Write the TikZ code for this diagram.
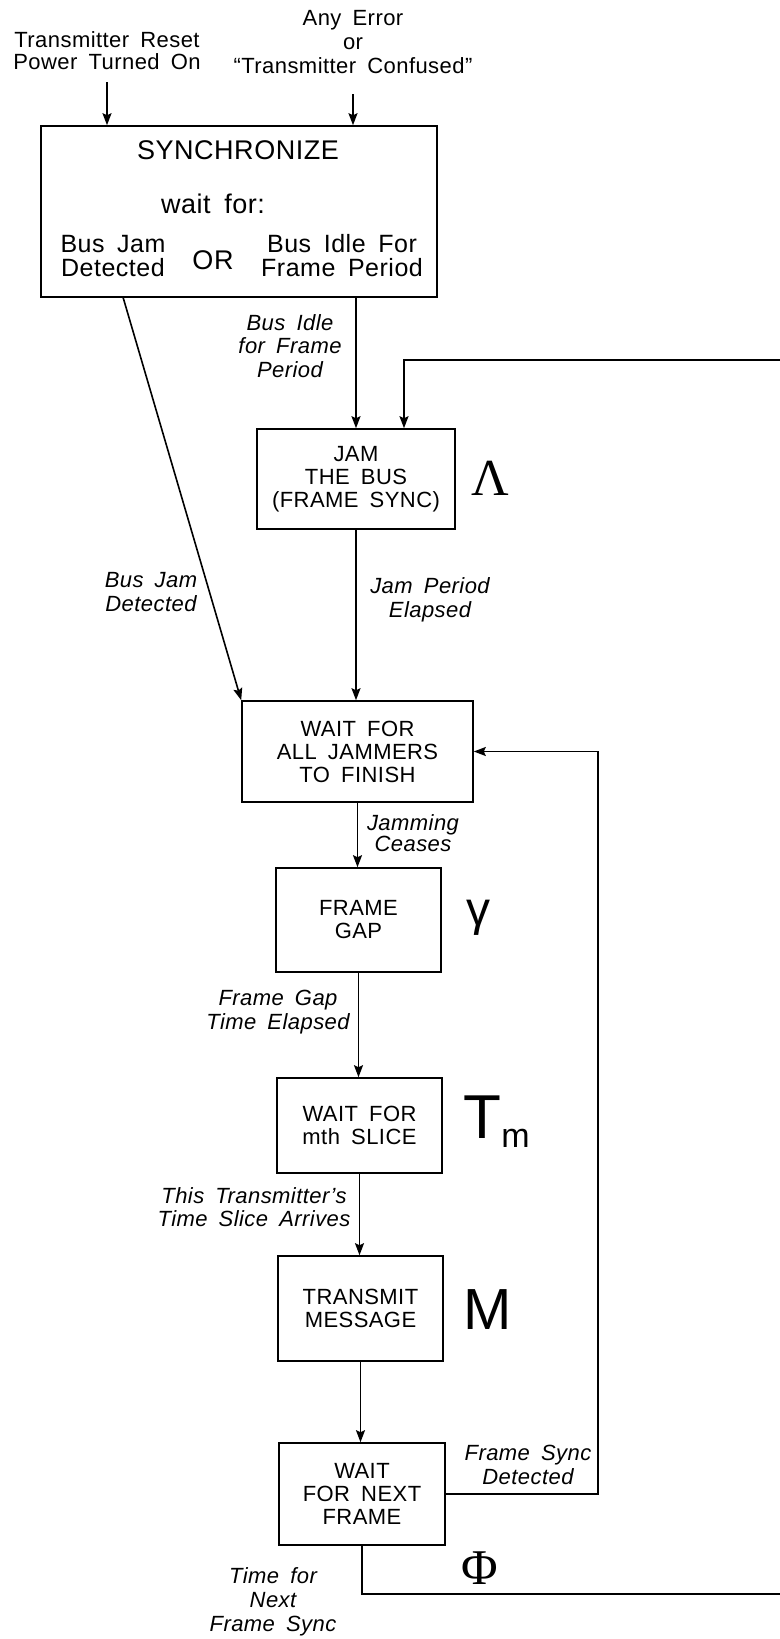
\documentclass[tikz,border=0pt]{standalone}
\usepackage{fontspec}
\setmainfont{Liberation Sans}[WordSpace=1.7, LetterSpace=2]
\newfontfamily\serifgreek{Liberation Serif}
\usetikzlibrary{arrows.meta,positioning}

\begin{document}
\begin{tikzpicture}[
  x=0.5pt,
  y=-0.5pt,
  every node/.style={inner sep=0pt, align=center, font=\fontsize{11}{11}\selectfont},
  state/.style={draw, line width=0.8pt, font=\fontsize{11}{11.5}\selectfont},
  flow/.style={line width=0.8pt, -{Stealth[length=6pt, width=4.5pt, inset=1pt]}},
  wire/.style={line width=0.8pt},
  cond/.style={font=\fontsize{11}{11.75}\selectfont\itshape},
  param/.style={font=\fontsize{25}{25}\selectfont\serifgreek}
]

  \clip (0,0) rectangle (780,1639);

  %% ---- entry conditions --------------------------------------------
  \node (reset) at (107,51) {Transmitter Reset\\Power Turned On};
  \node[font=\fontsize{11}{12.2}\selectfont] (anyerr) at (353,42)
    {Any Error\\or\\“Transmitter Confused”};

  %% ---- synchronize box ---------------------------------------------
  \node[state, minimum width=198pt, minimum height=85.5pt] (sync) at (239,211.5) {};
  \node[font=\fontsize{13.5}{14}\selectfont] (synctitle) at (238,150) {SYNCHRONIZE};
  \node[font=\fontsize{13.5}{14}\selectfont] (waitfor) at (213,204) {wait for:};
  \node[font=\fontsize{12.5}{12}\selectfont] (busjam) at (113,256) {Bus Jam\\Detected};
  \node[font=\fontsize{13.5}{14}\selectfont] (orword) at (213,260) {OR};
  \node[font=\fontsize{12.5}{12}\selectfont] (busidle) at (342,256) {Bus Idle For\\Frame Period};

  \draw[flow, shorten <=6pt] (reset.south) -- (reset.south |- sync.north);
  \draw[flow, shorten <=10pt] (anyerr.south) -- (anyerr.south |- sync.north);

  %% ---- states down the middle --------------------------------------
  \node[state, minimum width=99pt, minimum height=50pt] (jam) at (356,479)
    {JAM\\THE BUS\\(FRAME SYNC)};
  \node[state, minimum width=115.5pt, minimum height=50.5pt] (jamwait) at (357.5,751.5)
    {WAIT FOR\\ALL JAMMERS\\TO FINISH};
  \node[state, minimum width=82.5pt, minimum height=52pt] (gap) at (358.5,920)
    {FRAME\\GAP};
  \node[state, minimum width=82.5pt, minimum height=47.5pt] (slice) at (359.5,1125.5)
    {WAIT FOR\\mth SLICE};
  \node[state, minimum width=82.5pt, minimum height=52.5pt] (xmit) at (360.5,1308.5)
    {TRANSMIT\\MESSAGE};
  \node[state, minimum width=83pt, minimum height=51pt] (next) at (362,1494)
    {WAIT\\FOR NEXT\\FRAME};

  %% ---- time parameters ---------------------------------------------
  \node[param, font=\fontsize{26}{26}\selectfont\serifgreek] (lambda) at (490,478) {Λ};
  \node[font=\fontsize{24}{24}\selectfont] (gamma) at (478,918) {γ};
  \node[anchor=base west, font=\fontsize{31}{31}\selectfont] (tslice) at (463,1138)
    {T\raisebox{-4.5pt}{\fontsize{17}{17}\selectfont m}};
  \node[font=\fontsize{29}{29}\selectfont] (msg) at (488,1310) {M};
  \node[param] (phi) at (480,1568) {Φ};

  %% ---- transitions -------------------------------------------------
  \draw[flow] (jam.north |- sync.south) -- (jam.north);
  \node[cond] (idlelbl) at (290,346) {Bus Idle\\for Frame\\Period};

  \draw[flow] ([xshift=41.5pt]sync.south west) -- (jamwait.north west);
  \node[cond] (jamlbl) at (151,592) {Bus Jam\\Detected};

  \draw[flow] (jam.south) -- (jam.south |- jamwait.north);
  \node[cond] (jamdone) at (430,600) {Jam Period\\Elapsed};

  \draw[flow] (jamwait.south) -- (jamwait.south |- gap.north);
  \node[cond, font=\fontsize{11}{10.5}\selectfont\itshape] (ceases) at (413,833) {Jamming\\Ceases};

  \draw[flow] (gap.south) -- (gap.south |- slice.north);
  \node[cond] (gapdone) at (278,1012) {Frame Gap\\Time Elapsed};

  \draw[flow] (slice.south) -- (slice.south |- xmit.north);
  \node[cond] (arrives) at (254,1207) {This Transmitter’s\\Time Slice Arrives};

  \draw[flow] (xmit.south) -- (xmit.south |- next.north);

  \coordinate (syncright) at (598,1494);
  \draw[flow] (next.east) -- (syncright) |- (jamwait.east);
  \node[cond] (synclbl) at (528,1465) {Frame Sync\\Detected};

  \coordinate (farright) at (830,1594);
  \draw[flow] (next.south) |- (farright) -- (830,360) -| ([xshift=24pt]jam.north);
  \node[cond, font=\fontsize{11}{12}\selectfont\itshape] (nextlbl) at (273,1602)
    {Time for\\Next\\Frame Sync};

\end{tikzpicture}
\end{document}
